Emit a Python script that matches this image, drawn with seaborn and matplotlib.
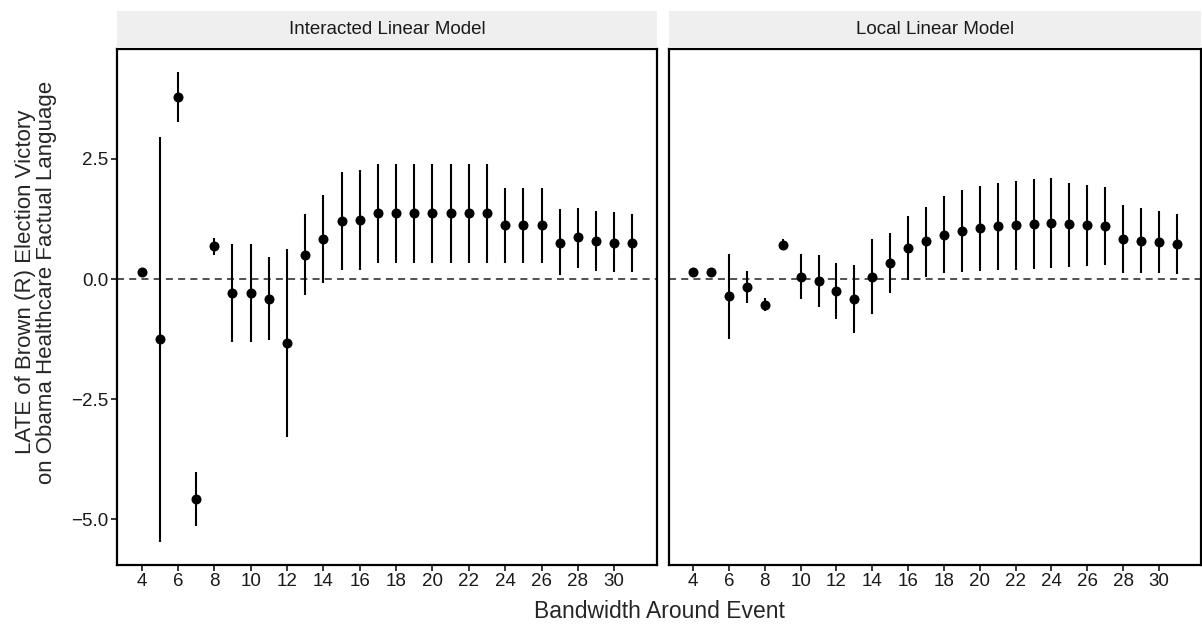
import numpy as np
import pandas as pd
import matplotlib
matplotlib.use("Agg")
import matplotlib.pyplot as plt
from matplotlib.patches import Rectangle
import seaborn as sns

bandwidth = list(range(4, 32))
panels = ["Interacted Linear Model", "Local Linear Model"]

int_est = [0.15, -1.25, 3.79, -4.57, 0.68, -0.28, -0.28, -0.41, -1.33, 0.51, 0.83, 1.20, 1.24,
           1.37, 1.37, 1.37, 1.37, 1.37, 1.37, 1.37, 1.12, 1.12, 1.12, 0.76, 0.87, 0.79, 0.76, 0.76]
int_lo = [0.15, -5.46, 3.26, -5.14, 0.50, -1.31, -1.31, -1.26, -3.29, -0.34, -0.08, 0.19, 0.20,
          0.34, 0.34, 0.34, 0.34, 0.34, 0.34, 0.34, 0.34, 0.34, 0.34, 0.08, 0.24, 0.17, 0.15, 0.15]
int_hi = [0.15, 2.95, 4.30, -4.01, 0.85, 0.73, 0.73, 0.45, 0.63, 1.36, 1.74, 2.22, 2.27,
          2.39, 2.39, 2.39, 2.39, 2.39, 2.39, 2.39, 1.89, 1.89, 1.89, 1.45, 1.49, 1.41, 1.39, 1.36]

loc_est = [0.15, 0.15, -0.36, -0.16, -0.54, 0.72, 0.05, -0.03, -0.25, -0.41, 0.05, 0.34, 0.65, 0.79,
           0.92, 1.00, 1.06, 1.10, 1.12, 1.15, 1.17, 1.14, 1.12, 1.10, 0.83, 0.80, 0.77, 0.74]
loc_lo = [0.15, 0.15, -1.25, -0.49, -0.67, 0.63, -0.42, -0.57, -0.83, -1.12, -0.73, -0.28, -0.01, 0.05,
          0.12, 0.14, 0.17, 0.19, 0.20, 0.21, 0.23, 0.25, 0.28, 0.29, 0.13, 0.13, 0.13, 0.11]
loc_hi = [0.15, 0.15, 0.53, 0.17, -0.40, 0.83, 0.52, 0.50, 0.34, 0.30, 0.83, 0.96, 1.31, 1.51,
          1.72, 1.85, 1.94, 2.00, 2.05, 2.08, 2.11, 2.00, 1.95, 1.92, 1.55, 1.47, 1.41, 1.36]

x_ticks = list(range(4, 31, 2))
y_ticks = [-5.0, -2.5, 0.0, 2.5]

df = pd.concat([
    pd.DataFrame({"bw": bandwidth, "est": int_est, "lo": int_lo, "hi": int_hi, "model": panels[0]}),
    pd.DataFrame({"bw": bandwidth, "est": loc_est, "lo": loc_lo, "hi": loc_hi, "model": panels[1]}),
])

sns.set_theme(style="white")
plt.rcParams["font.family"] = ["Liberation Sans", "DejaVu Sans"]

W, H = 1202, 631
fig = plt.figure(figsize=(W / 100, H / 100), dpi=100)

ymin_d = min(df["lo"].min(), df["est"].min())
ymax_d = max(df["hi"].max(), df["est"].max())
pad = (ymax_d - ymin_d) * 0.05
xpad = (max(bandwidth) - min(bandwidth)) * 0.05

panel_px = [(117, 657), (669, 1201)]
top_px, bot_px = 49, 565
strip_top = 11

for i, (model, (x0, x1)) in enumerate(zip(panels, panel_px)):
    ax = fig.add_axes([x0 / W, 1 - bot_px / H, (x1 - x0) / W, (bot_px - top_px) / H])
    sub = df[df["model"] == model]
    ax.vlines(sub["bw"], sub["lo"], sub["hi"], color="black", lw=1.5, zorder=2)
    sns.scatterplot(data=sub, x="bw", y="est", ax=ax, color="black", s=52,
                    edgecolor="black", linewidth=0, zorder=3)
    ax.axhline(0, color="#222222", lw=1.1, ls=(0, (4.6, 3.4)), zorder=1)
    ax.set_xlim(min(bandwidth) - xpad, max(bandwidth) + xpad)
    ax.set_ylim(ymin_d - pad, ymax_d + pad)
    ax.set_xticks(x_ticks)
    ax.set_xticklabels([str(t) for t in x_ticks], fontsize=13.5, color="#1a1a1a")
    ax.set_yticks(y_ticks)
    if i == 0:
        ax.set_yticklabels(["\u22125.0", "\u22122.5", "0.0", "2.5"], fontsize=13.5, color="#1a1a1a")
        ax.tick_params(axis="y", length=4, width=1.1, color="black", left=True, pad=2)
    else:
        ax.set_yticklabels([])
        ax.tick_params(axis="y", left=False, length=0)
    ax.tick_params(axis="x", length=4, width=1.1, color="black", bottom=True, pad=2)
    ax.set_xlabel("")
    ax.set_ylabel("")
    for sp in ax.spines.values():
        sp.set_visible(True)
        sp.set_color("black")
        sp.set_linewidth(1.6)
    ax.grid(False)
    fig.patches.append(Rectangle((x0 / W, 1 - (top_px - 1) / H), (x1 - x0) / W, (top_px - 1 - strip_top) / H,
                                 transform=fig.transFigure, facecolor="#efefef", edgecolor="none"))
    fig.text((x0 + x1) / 2 / W, 1 - (top_px + strip_top) / 2 / H, model, ha="center", va="center",
             fontsize=13.5, color="#1a1a1a")

fig.text((117 + 1201) / 2 / W, 1 - 611 / H, "Bandwidth Around Event", ha="center", va="center", fontsize=16.5)
fig.text(36 / W, 1 - 282 / H,
         "LATE of Brown (R) Election Victory\non Obama Healthcare Factual Language",
         ha="center", va="center", rotation=90, fontsize=16, linespacing=1.0)

fig.savefig("out.png", dpi=100)
